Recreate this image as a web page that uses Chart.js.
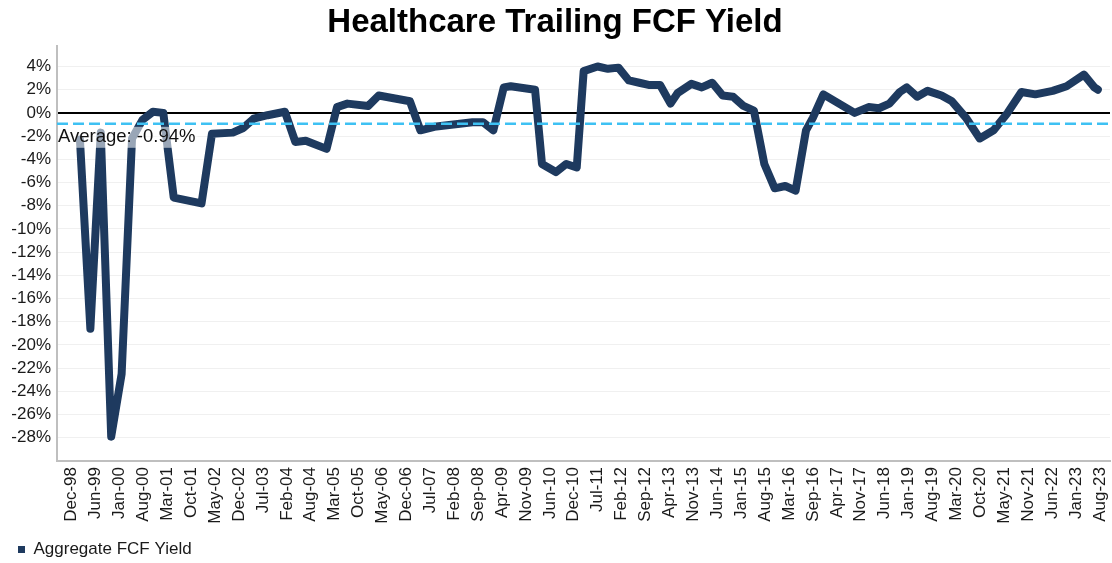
<!DOCTYPE html>
<html><head><meta charset="utf-8">
<script src="https://cdn.jsdelivr.net/npm/chart.js@4.4.1/dist/chart.umd.min.js"></script>
<style>html,body{margin:0;padding:0;overflow:hidden;background:#fff}#wrap{width:1112px;height:568px}</style>
</head><body><div id="wrap"><canvas id="c" width="1112" height="568"></canvas></div>
<script>
const chartTitle = 'Healthcare Trailing FCF Yield';
const seriesName = 'Aggregate FCF Yield';
const averageYield = -0.94;

const months = [
 '1999-03','1999-06','1999-09','1999-12','2000-03','2000-06','2000-09','2000-12','2001-03','2001-06',
 '2002-02','2002-05','2002-11','2003-02','2003-05','2003-09','2004-02','2004-05','2004-08','2005-02',
 '2005-05','2005-08','2006-02','2006-05','2007-02','2007-05','2007-09','2008-08','2008-11','2009-02',
 '2009-05','2009-07','2010-02','2010-04','2010-08','2010-11','2011-02','2011-04','2011-08','2011-11',
 '2012-02','2012-05','2012-08','2012-11','2013-02','2013-05','2013-07','2013-11','2014-02','2014-05',
 '2014-08','2014-11','2015-02','2015-05','2015-08','2015-11','2016-02','2016-05','2016-08','2016-10',
 '2017-01','2017-10','2018-02','2018-05','2018-08','2018-11','2019-01','2019-04','2019-07','2019-11',
 '2020-02','2020-06','2020-10','2021-02','2021-06','2021-10','2022-02','2022-07','2022-11','2023-04',
 '2023-07','2023-08'
];
const yieldPct = [
 -2.3,-18.6,-1.7,-27.9,-22.5,-2.2,-0.6,0.1,0.0,-7.3,
 -7.8,-1.8,-1.7,-1.3,-0.5,-0.2,0.1,-2.5,-2.4,-3.1,
 0.5,0.8,0.6,1.5,1.0,-1.5,-1.2,-0.8,-0.8,-1.5,
 2.2,2.3,2.0,-4.4,-5.1,-4.4,-4.7,3.6,4.0,3.8,
 3.9,2.8,2.6,2.4,2.4,0.8,1.7,2.5,2.2,2.6,
 1.5,1.4,0.6,0.2,-4.4,-6.5,-6.3,-6.7,-1.5,-0.4,
 1.6,0.0,0.5,0.4,0.8,1.8,2.2,1.4,1.9,1.5,
 1.0,-0.4,-2.2,-1.5,0.0,1.8,1.6,1.9,2.3,3.3,
 2.2,2.0
];
const xTickLabels = ['Dec-98','Jun-99','Jan-00','Aug-00','Mar-01','Oct-01','May-02','Dec-02','Jul-03','Feb-04',
 'Aug-04','Mar-05','Oct-05','May-06','Dec-06','Jul-07','Feb-08','Sep-08','Apr-09','Nov-09','Jun-10','Dec-10',
 'Jul-11','Feb-12','Sep-12','Apr-13','Nov-13','Jun-14','Jan-15','Aug-15','Mar-16','Sep-16','Apr-17','Nov-17',
 'Jun-18','Jan-19','Aug-19','Mar-20','Oct-20','May-21','Nov-21','Jun-22','Jan-23','Aug-23'];
const yTickValues = [4,2,0,-2,-4,-6,-8,-10,-12,-14,-16,-18,-20,-22,-24,-26,-28];

const NAVY = '#1e3a5f';
function monthIndex(s){ const [y,m] = s.split('-').map(Number); return (y-1998)*12 + (m-12); }
const FIRST_LABEL = 0.6, SPAN = 296; // label axis span in months (Dec-98 .. Aug-23)

Chart.defaults.font.family = '"Liberation Sans", Arial, sans-serif';

const avgPlugin = {
  id:'avgLine',
  afterDatasetsDraw(chart){
    const {ctx, chartArea:a, scales:{y}} = chart;
    const py = y.getPixelForValue(averageYield);
    ctx.save();
    ctx.strokeStyle = '#3ec1f3'; ctx.lineWidth = 2.5; ctx.setLineDash([11,5]);
    ctx.beginPath(); ctx.moveTo(a.left, py); ctx.lineTo(a.right, py); ctx.stroke();
    ctx.setLineDash([]);
    ctx.font = '18.5px "Liberation Sans", Arial, sans-serif';
    const label = 'Average: ' + averageYield.toFixed(2) + '%';
    const w = ctx.measureText(label).width;
    ctx.fillStyle = 'rgba(255,255,255,0.55)';
    ctx.fillRect(a.left + 1, py + 3, w + 2, 21);
    ctx.fillStyle = '#111';
    ctx.textBaseline = 'alphabetic';
    ctx.fillText(label, a.left + 1, py + 18.5);
    ctx.restore();
  }
};

new Chart(document.getElementById('c'), {
  type:'line',
  data:{ datasets:[{
    label: seriesName,
    data: months.map((m,i)=>({x: monthIndex(m), y: yieldPct[i]})),
    borderColor: NAVY, backgroundColor: NAVY,
    borderWidth: 8, pointRadius: 0, tension: 0,
    borderJoinStyle:'round', borderCapStyle:'round'
  }]},
  options:{
    responsive:false, animation:false, devicePixelRatio:1,
    layout:{ padding:{left:0,right:2,top:0,bottom:0} },
    plugins:{
      title:{ display:true, text: chartTitle, color:'#000', font:{size:33, weight:'bold'}, padding:{top:3,bottom:3} },
      legend:{ display:true, position:'bottom', align:'start',
        labels:{ font:{size:17}, color:'#1a1a1a', boxWidth:7, boxHeight:7, padding:18,
          generateLabels: chart => [{ text: seriesName, fillStyle: NAVY, strokeStyle: NAVY, lineWidth:0, datasetIndex:0, hidden:false, fontColor:'#1a1a1a' }] } },
      tooltip:{ enabled:false }
    },
    scales:{
      x:{ type:'linear', min:-3.6, max:299.5,
        grid:{ display:false, drawTicks:false },
        border:{ display:true, color:'#bfbfbf', width:2 },
        afterBuildTicks: s => { s.ticks = xTickLabels.map((t,i)=>({value: FIRST_LABEL + i*SPAN/(xTickLabels.length-1)})); },
        ticks:{ autoSkip:false, maxRotation:90, minRotation:90, padding:6, color:'#1a1a1a', font:{size:17},
          callback:(v,i)=>xTickLabels[i] },
        afterFit: s => { s.height = 62; s.paddingLeft = 0; s.paddingRight = 0; }
      },
      y:{ min:-30, max:5.8,
        afterBuildTicks: s => { s.ticks = yTickValues.map(v=>({value:v})); },
        grid:{ drawTicks:false,
          color: c => (c.tick && c.tick.value === 0) ? '#000' : '#f0f0f0',
          lineWidth: c => (c.tick && c.tick.value === 0) ? 2 : 1 },
        border:{ display:true, color:'#bfbfbf', width:2 },
        ticks:{ padding:6, color:'#1a1a1a', font:{size:17}, callback: v => v + '%' },
        afterFit: s => { s.width = 57; s.paddingTop = 0; s.paddingBottom = 0; }
      }
    }
  },
  plugins:[avgPlugin]
});
</script></body></html>
